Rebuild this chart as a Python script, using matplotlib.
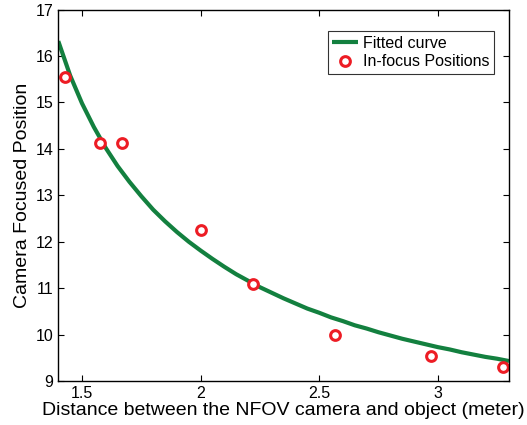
import matplotlib
matplotlib.use('Agg')
import matplotlib.pyplot as plt

plt.rcParams['font.family'] = ['Liberation Sans', 'DejaVu Sans']

# measured in-focus positions
dist = [1.428, 1.577, 1.670, 2.002, 2.220, 2.568, 2.973, 3.273]
focus = [15.55, 14.12, 14.13, 12.26, 11.10, 10.00, 9.53, 9.30]

# fitted curve, every 0.05 m
curve_x = [1.40, 1.45, 1.50, 1.55, 1.60, 1.65, 1.70, 1.75, 1.80, 1.85,
           1.90, 1.95, 2.00, 2.05, 2.10, 2.15, 2.20, 2.25, 2.30, 2.35,
           2.40, 2.45, 2.50, 2.55, 2.60, 2.65, 2.70, 2.75, 2.80, 2.85,
           2.90, 2.95, 3.00, 3.05, 3.10, 3.15, 3.20, 3.25, 3.30]
curve_y = [16.32, 15.58, 14.98, 14.47, 14.02, 13.63, 13.29, 12.98, 12.69, 12.44,
           12.21, 12.00, 11.81, 11.63, 11.46, 11.30, 11.16, 11.02, 10.90, 10.78,
           10.67, 10.56, 10.47, 10.37, 10.29, 10.20, 10.13, 10.05, 9.98, 9.91,
           9.85, 9.79, 9.73, 9.68, 9.62, 9.57, 9.52, 9.48, 9.43]

xticks = [1.5, 2, 2.5, 3]
xticklabels = ['1.5', '2', '2.5', '3']
yticks = [9, 10, 11, 12, 13, 14, 15, 16, 17]

fig = plt.figure(figsize=(5.27, 4.25), dpi=100)
ax = fig.add_axes([0.1106, 0.1035, 0.8552, 0.874])

ax.plot(curve_x, curve_y, color='#13803f', lw=3.0, label='Fitted curve', solid_capstyle='butt')
ax.plot(dist, focus, 'o', ms=7, mfc='white', mec='#ed1c24', mew=2.2, label='In-focus Positions')

ax.set_xlim(1.4, 3.3)
ax.set_ylim(9, 17)
ax.set_xticks(xticks)
ax.set_xticklabels(xticklabels)
ax.set_yticks(yticks)
ax.tick_params(direction='in', length=4, width=0.8, top=True, right=True, labelsize=11.5, pad=3.5)
for s in ax.spines.values():
    s.set_linewidth(1.0)

ax.set_xlabel('Distance between the NFOV camera and object (meter)', fontsize=14, labelpad=1)
ax.set_ylabel('Camera Focused Position', fontsize=14, labelpad=3)

leg = ax.legend(loc='upper right', bbox_to_anchor=(0.967, 0.942), fontsize=11.5, frameon=True,
                fancybox=False, edgecolor='black', borderpad=0.3, handlelength=1.6,
                handletextpad=0.3, labelspacing=0.2, borderaxespad=0)
leg.get_frame().set_linewidth(0.8)

fig.savefig('out.png', dpi=100)
